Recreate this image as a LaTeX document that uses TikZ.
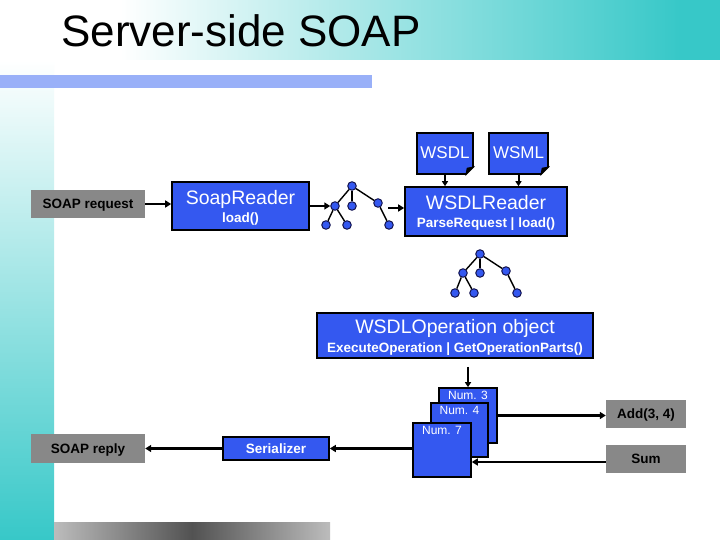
\documentclass[tikz,border=0pt]{standalone}
\usepackage{fontspec}
\setmainfont{Liberation Sans}
\usetikzlibrary{arrows.meta,calc}
\definecolor{tealc}{RGB}{55,200,200}
\definecolor{boxblue}{RGB}{52,88,240}
\definecolor{boxgray}{RGB}{136,136,136}
\definecolor{barblue}{RGB}{153,176,248}
\definecolor{barlight}{RGB}{188,188,188}
\definecolor{bardark}{RGB}{82,82,82}
\definecolor{nodeedge}{RGB}{20,20,80}
\newcommand{\bigf}{\fontsize{19.5}{22}\selectfont\mdseries}
\newcommand{\smallf}{\fontsize{13.5}{16}\selectfont\bfseries}
\newcommand{\docf}{\fontsize{17}{20}\selectfont}
\newcommand{\numf}{\fontsize{12}{14}\selectfont}
\begin{document}
\begin{tikzpicture}[x=1pt,y=-1pt,
  graybox/.style={fill=boxgray, inner sep=0, font=\smallf, text=black, text height=9.7pt, text depth=0pt},
  bluebox/.style={fill=boxblue, draw=black, line width=1.6, text=white, inner sep=0, align=center, text depth=0pt},
  docbox/.style={fill=boxblue, draw=black, line width=1.6, text=white, inner sep=0, font=\docf, text height=12.2pt, text depth=2pt},
  numbox/.style={fill=boxblue, draw=black, line width=1.6, inner sep=0},
  numtxt/.style={text=white, font=\numf, inner sep=0},
  treenode/.style={circle, fill=boxblue, draw=nodeedge, line width=1, minimum size=8.5, inner sep=0},
  treeedge/.style={line width=1.4, black},
  arr/.style={line width=2.6, -{Triangle[length=6pt,width=7pt]}},
  varr/.style={line width=2, -{Triangle[length=5pt,width=6pt]}}
]
\useasboundingbox (0,0) rectangle (720,540);
% background
\fill[white] (0,0) rectangle (720,540);
\fill[white] (0,0) rectangle (120,60);
\shade[left color=white, right color=tealc] (120,0) rectangle (680,60);
\fill[tealc] (680,0) rectangle (720,60);
\shade[top color=white, bottom color=tealc] (0,60) rectangle (54,540);
\fill[barblue] (0,75) rectangle (372,88);
\shade[left color=barlight, right color=barlight, middle color=bardark] (54,522) rectangle (330,540);
% title
\node[anchor=base west, inner sep=0, font=\fontsize{44}{48}\selectfont] (title) at (61,47) {Server-side SOAP};

% boxes
\node[graybox, minimum width=114, minimum height=28] (req) at (88,204) {SOAP request};
\node[bluebox, minimum width=137, minimum height=48, font=\fontsize{13.5}{18}\selectfont] (sr) at (240.5,206) {{\bigf SoapReader}\\{\smallf load()}};
\node[bluebox, minimum width=162, minimum height=49, font=\fontsize{13.5}{17.5}\selectfont] (wr) at (486,211.5) {{\bigf WSDLReader}\\{\smallf ParseRequest | load()}};
\node[docbox, minimum width=56, minimum height=41] (wsdl) at (445,153.5) {WSDL};
\node[docbox, minimum width=59, minimum height=41] (wsml) at (518.5,153.5) {WSML};
\foreach \d in {wsdl,wsml}{
  \fill[white] ($(\d.south east)+(-9,1)$) -- ($(\d.south east)+(1,1)$) -- ($(\d.south east)+(1,-9)$) -- cycle;
  \fill[black] ($(\d.south east)+(-8.5,0.5)$) -- ($(\d.south east)+(0.5,-8.5)$) -- ($(\d.south east)+(-7,-7)$) -- cycle;
  \draw[line width=1.2] ($(\d.south east)+(-8.5,0.5)$) -- ($(\d.south east)+(0.5,-8.5)$);
}
\node[bluebox, minimum width=276, minimum height=45, font=\fontsize{13.5}{19}\selectfont] (op) at (455,335.5) {{\bigf WSDLOperation object}\\{\smallf ExecuteOperation | GetOperationParts()}};

\node[numbox, minimum width=58, minimum height=55] (n3) at (468,415.5) {};
\node[numtxt, below=3.5pt] (t3) at (n3.north) {Num. 3};
\node[numbox, minimum width=57, minimum height=54] (n4) at (459.5,430) {};
\node[numtxt, below=3.5pt] (t4) at (n4.north) {Num. 4};
\node[numbox, minimum width=58, minimum height=54] (n7) at (442,450) {};
\node[numtxt, below=3.5pt] (t7) at (n7.north) {Num. 7};

\node[graybox, minimum width=80, minimum height=28] (add) at (646,414) {Add(3, 4)};
\node[graybox, minimum width=80, minimum height=28] (sum) at (646,459) {Sum};
\node[bluebox, minimum width=106, minimum height=23, font=\smallf, text height=9.7pt, text depth=0pt] (ser) at (276,448.5) {Serializer};
\node[graybox, minimum width=114, minimum height=29] (rep) at (88,448.5) {SOAP reply};

% tree 1
\node[treenode] (a1) at (352,186) {};
\node[treenode] (b1) at (335,206) {};
\node[treenode] (m1) at (352,206) {};
\node[treenode] (c1) at (378,203) {};
\node[treenode] (d1) at (326,225) {};
\node[treenode] (e1) at (347,225) {};
\node[treenode] (f1) at (389,225) {};
% tree 2
\node[treenode] (a2) at (480,254) {};
\node[treenode] (b2) at (463,273) {};
\node[treenode] (m2) at (480,273) {};
\node[treenode] (c2) at (506,271) {};
\node[treenode] (d2) at (455,293) {};
\node[treenode] (e2) at (474,293) {};
\node[treenode] (f2) at (517,293) {};
\foreach \t in {1,2}{
  \draw[treeedge] (a\t) -- (b\t);
  \draw[treeedge] (a\t) -- (m\t);
  \draw[treeedge] (a\t) -- (c\t);
  \draw[treeedge] (b\t) -- (d\t);
  \draw[treeedge] (b\t) -- (e\t);
  \draw[treeedge] (c\t) -- (f\t);
}

% connectors
\draw[arr] (req.east) -- (sr.west |- req.east);
\draw[arr] (sr.east) -- (b1);
\coordinate (tw) at (388,208);
\draw[arr] (tw) -- (tw -| wr.west);
\draw[varr] (wsdl.south) -- (wsdl.south |- wr.north);
\draw[varr] (wsml.south) -- (wsml.south |- wr.north);
\draw[varr, shorten <=8pt] (op.south -| n3.north) -- (n3.north);
\draw[arr] (n3.east) -- (n3.east -| add.west);
\coordinate (sw) at ($(sum.west)+(0,3)$);
\draw[arr] (sw) -- (sw -| n7.east);
\draw[arr] (n7.west |- ser.east) -- (ser.east);
\draw[arr] (ser.west) -- (rep.east);
\end{tikzpicture}
\end{document}
